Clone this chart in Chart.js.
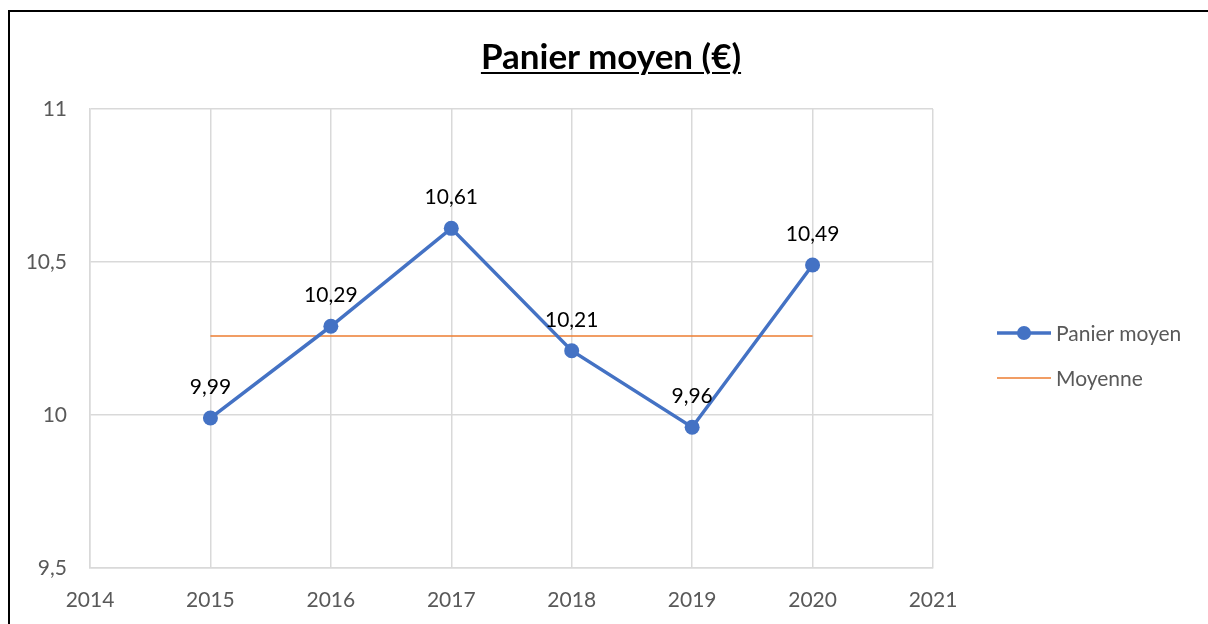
<!DOCTYPE html>
<html lang="fr">
<head>
<meta charset="utf-8">
<title>Panier moyen (€)</title>
<script src="https://cdn.jsdelivr.net/npm/chart.js@4.4.1/dist/chart.umd.min.js"></script>
<style>
  html, body { margin: 0; padding: 0; background: #fff; }
  body { width: 1208px; height: 624px; position: relative; overflow: hidden; font-family: Lato, "Open Sans", sans-serif; }
  #cadre { position: absolute; left: 8px; top: 10px; width: 1200px; height: 614px; border-left: 2px solid #000; border-top: 2px solid #000; box-sizing: border-box; }
  #titre { position: absolute; left: 0; width: 1222px; top: 34px; text-align: center; font-size: 35px; font-weight: bold; text-decoration: underline; text-decoration-thickness: 2px; text-underline-offset: 3px; color: #000; }
  #zone { position: absolute; left: 0; top: 0; width: 1208px; height: 624px; }
  #legende { position: absolute; left: 996px; top: 310px; font-size: 21px; color: #595959; }
  .item { display: flex; align-items: center; height: 45px; }
  .trait { width: 56px; height: 30px; margin-right: 4px; }
</style>
</head>
<body>
<div id="cadre"></div>
<div id="zone"><canvas id="graphique" width="1208" height="624"></canvas></div>
<div id="titre">Panier moyen (€)</div>
<div id="legende"></div>
<script>
// Données
const annees = [2015, 2016, 2017, 2018, 2019, 2020];
const panierMoyen = [9.99, 10.29, 10.61, 10.21, 9.96, 10.49];
const moyenne = [10.258, 10.258];
const anneesMoyenne = [2015, 2020];
const ticksY = [9.5, 10, 10.5, 11];

const bleu = '#4472c4';
const orange = '#ed7d31';
const grille = '#d9d9d9';
const police = 'Lato, "Open Sans", sans-serif';

const formatFr = v => String(v).replace('.', ',');

// Plugin pour les étiquettes de données
const etiquettes = {
    id: 'etiquettes',
    afterDatasetsDraw(chart) {
        const ctx = chart.ctx;
        const meta = chart.getDatasetMeta(0);
        ctx.save();
        ctx.font = '21px ' + police;
        ctx.fillStyle = '#000';
        ctx.textAlign = 'center';
        ctx.textBaseline = 'middle';
        meta.data.forEach((pt, i) => {
            ctx.fillText(formatFr(panierMoyen[i]), pt.x, pt.y - 31);
        });
        ctx.restore();
    }
};

const ctx = document.getElementById('graphique').getContext('2d');
const chart = new Chart(ctx, {
    type: 'line',
    data: {
        datasets: [{
            label: 'Panier moyen',
            data: annees.map((a, i) => ({ x: a, y: panierMoyen[i] })),
            borderColor: bleu,
            backgroundColor: bleu,
            borderWidth: 3.5,
            pointRadius: 7.5,
            pointHoverRadius: 7.5,
            pointBorderWidth: 0,
            tension: 0
        }, {
            label: 'Moyenne',
            data: anneesMoyenne.map((a, i) => ({ x: a, y: moyenne[i] })),
            borderColor: orange,
            backgroundColor: orange,
            borderWidth: 1.5,
            pointRadius: 0,
            tension: 0
        }]
    },
    options: {
        responsive: false,
        animation: false,
        layout: { padding: { left: 10, top: 109, right: 275, bottom: 0 } },
        scales: {
            x: {
                type: 'linear',
                min: 2014,
                max: 2021,
                ticks: {
                    stepSize: 1,
                    padding: 20,
                    color: '#595959',
                    font: { size: 21, family: police },
                    callback: v => String(v)
                },
                grid: { color: grille, lineWidth: 1.5, drawTicks: false },
                border: { color: grille, width: 1.5 },
                afterFit(scale) { scale.height = 56; }
            },
            y: {
                min: 9.5,
                max: 11,
                afterBuildTicks(scale) { scale.ticks = ticksY.map(v => ({ value: v })); },
                ticks: {
                    padding: 23,
                    color: '#595959',
                    font: { size: 21, family: police },
                    callback: v => formatFr(v)
                },
                grid: { color: grille, lineWidth: 1.5, drawTicks: false },
                border: { color: grille, width: 1.5 },
                afterFit(scale) { scale.width = 80; }
            }
        },
        plugins: {
            legend: { display: false },
            tooltip: { enabled: false }
        }
    },
    plugins: [etiquettes]
});

// Légende à droite
const legende = document.getElementById('legende');
chart.data.datasets.forEach(ds => {
    const item = document.createElement('div');
    item.className = 'item';
    const c = document.createElement('canvas');
    c.width = 56; c.height = 30; c.className = 'trait';
    const g = c.getContext('2d');
    g.strokeStyle = ds.borderColor;
    g.lineWidth = ds.borderWidth;
    g.beginPath(); g.moveTo(1, 15); g.lineTo(55, 15); g.stroke();
    if (ds.pointRadius > 0) {
        g.fillStyle = ds.backgroundColor;
        g.beginPath(); g.arc(28, 15, 7, 0, Math.PI * 2); g.fill();
    }
    const t = document.createElement('span');
    t.textContent = ds.label;
    item.appendChild(c);
    item.appendChild(t);
    legende.appendChild(item);
});
</script>
</body>
</html>
